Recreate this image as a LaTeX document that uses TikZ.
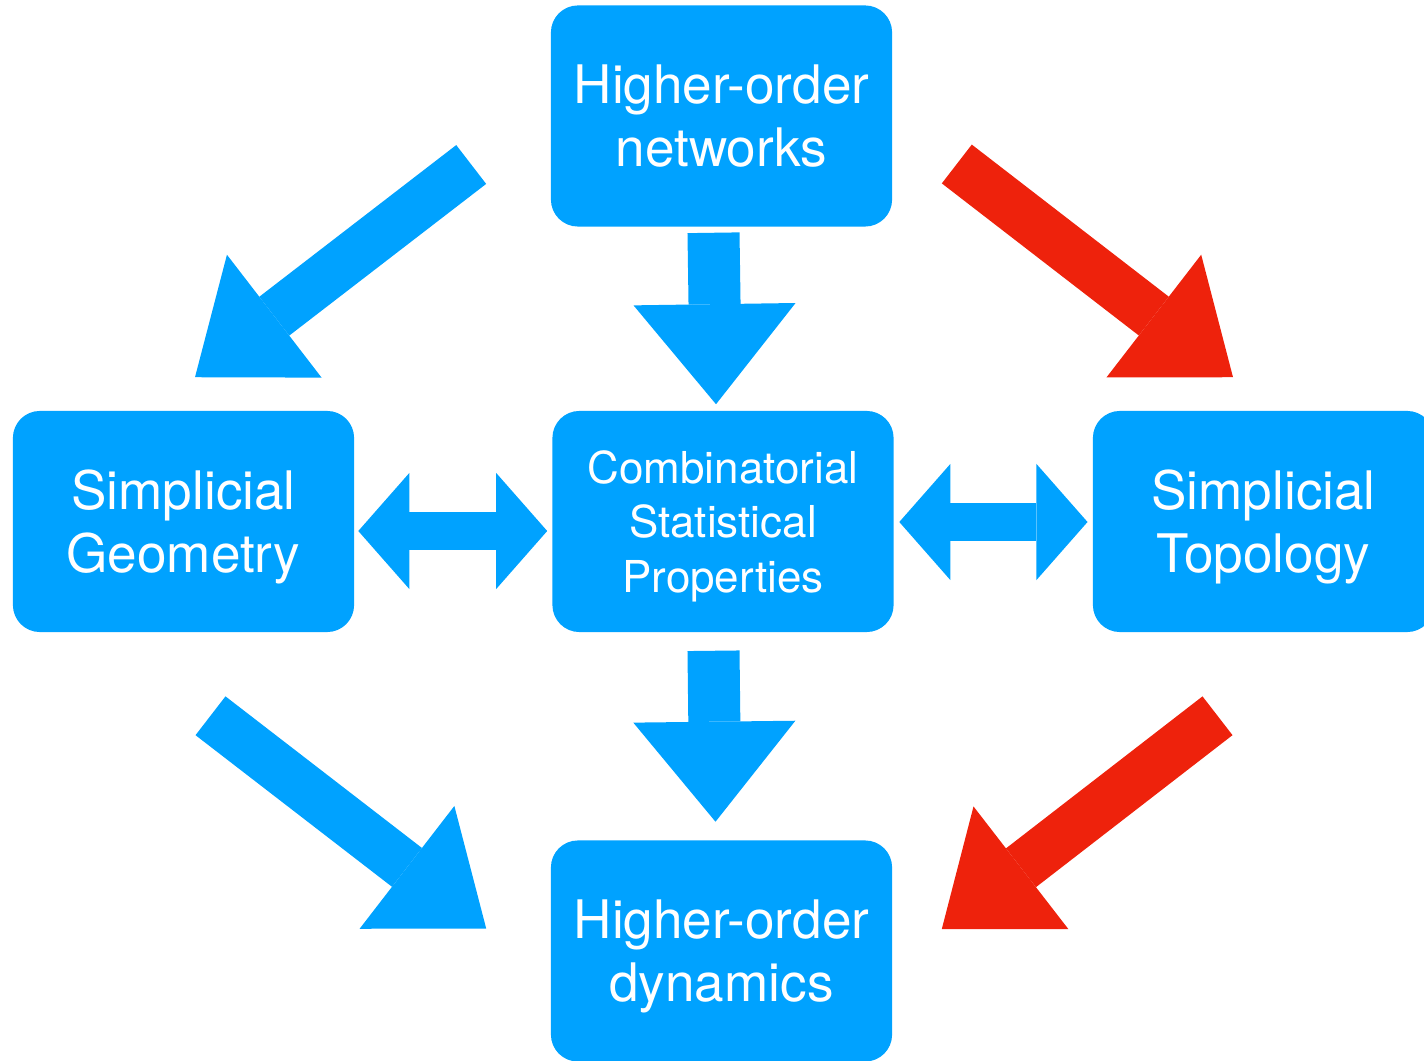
\documentclass[tikz,border=0pt]{standalone}
\usepackage{fontspec}
\setmainfont{TeX Gyre Heros}
\usetikzlibrary{arrows.meta,positioning}
\definecolor{kblue}{HTML}{00A2FF}
\definecolor{kred}{HTML}{EE220C}

\begin{document}
\begin{tikzpicture}[x=0.01cm, y=-0.01cm,
    box/.style={fill=kblue, rounded corners=0.27cm, inner sep=0pt,
      minimum width=3.41cm, minimum height=2.21cm, text=white, align=center,
      text depth=-0.04cm, font=\fontsize{15.1}{17.9}\selectfont},
    smallbox/.style={box, font=\fontsize{12.5}{15.6}\selectfont},
    diagarrow/.style={line width=0.49cm,
      -{Triangle[length=1cm, width=1.55cm, line width=0pt]}},
    downarrow/.style={line width=0.52cm,
      -{Triangle[length=1cm, width=1.62cm, line width=0pt]}},
    twoarrow/.style={line width=0.38cm,
      {Triangle[length=0.51cm, width=1.16cm, line width=0pt]}-{Triangle[length=0.51cm, width=1.16cm, line width=0pt]}}]
    \useasboundingbox (0,0) rectangle (1424,1061);

    % boxes
    \node[box] (hon) at (721.5,116) {Higher-order\\networks};
    \node[box] (geo) at (183.5,521.5) {Simplicial\\Geometry};
    \node[smallbox] (comb) at (723,521.5) {Combinatorial\\Statistical\\Properties};
    \node[box] (top) at (1263.5,521.5) {Simplicial\\Topology};
    \node[box] (dyn) at (721.5,951) {Higher-order\\dynamics};

    % arrows
    \draw[diagarrow, kblue] ([shift={(-79,48.5)}]hon.west) -- ([shift={(11.5,-33)}]geo.north);
    \draw[diagarrow, kred] ([shift={(64,48)}]hon.east) -- ([shift={(-30.5,-33)}]top.north);
    \draw[diagarrow, kblue] ([shift={(27,83)}]geo.south) -- ([shift={(-64,-22.5)}]dyn.west);
    \draw[diagarrow, kred] ([shift={(-46,83)}]top.south) -- ([shift={(49,-22)}]dyn.east);
    \draw[downarrow, kblue] ([shift={(-8,5.5)}]hon.south) -- ([shift={(-7,-6)}]comb.north);
    \draw[downarrow, kblue] ([shift={(-9.5,18)}]comb.south) -- ([shift={(-6,-18)}]dyn.north);
    \draw[twoarrow, kblue] ([shift={(3.5,9.5)}]geo.east) -- ([shift={(-4.5,9.5)}]comb.west);
    \draw[twoarrow, kblue] ([shift={(5,0.5)}]comb.east) -- ([shift={(-4.7,0.5)}]top.west);
\end{tikzpicture}
\end{document}
